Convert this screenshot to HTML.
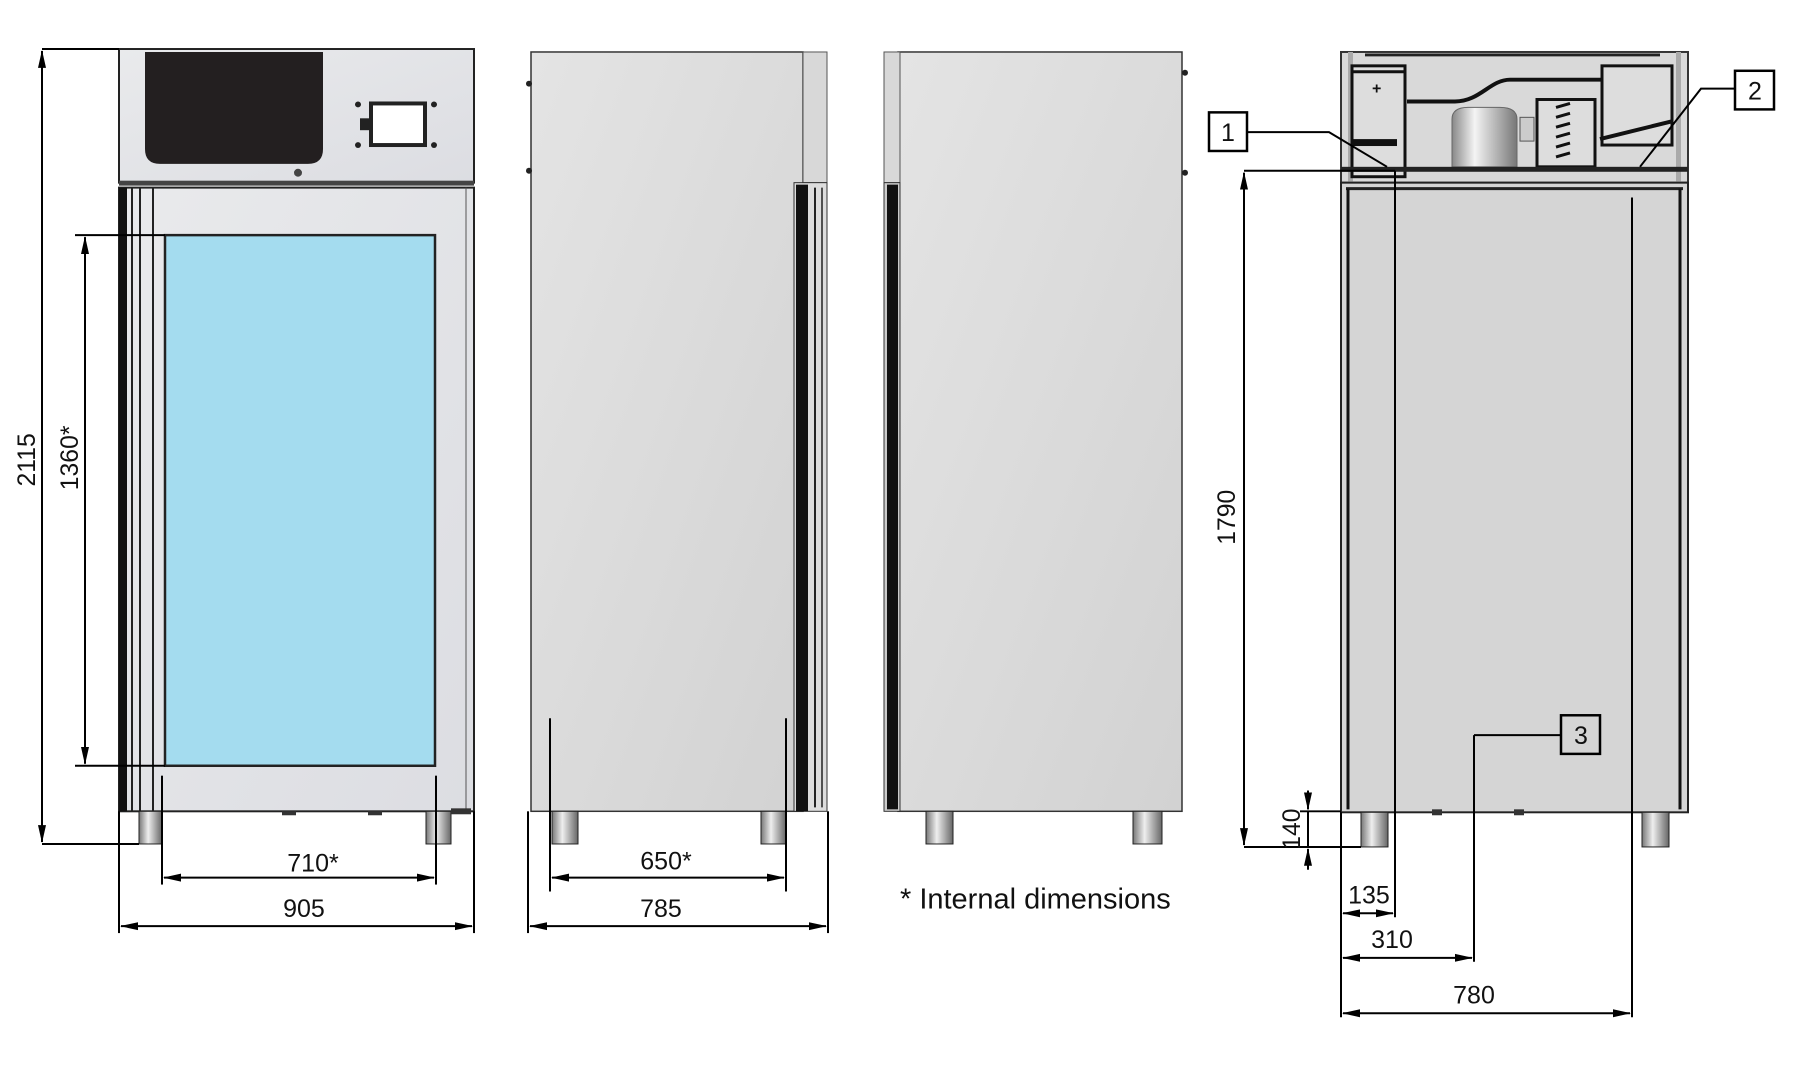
<!DOCTYPE html>
<html><head><meta charset="utf-8"><style>
html,body{margin:0;padding:0;background:#fff}
svg{display:block}
text{font-family:"Liberation Sans",sans-serif;font-size:25px;fill:#111}
</style></head><body>
<svg width="1803" height="1065" viewBox="0 0 1803 1065" xmlns="http://www.w3.org/2000/svg">
<defs>
<linearGradient id="g1" x1="0" y1="0" x2="1" y2="1"><stop offset="0" stop-color="#e4e4e4"/><stop offset="1" stop-color="#d2d2d2"/></linearGradient>
<linearGradient id="g2" x1="0" y1="0" x2="1" y2="1"><stop offset="0" stop-color="#e9eaec"/><stop offset="1" stop-color="#dcdde2"/></linearGradient>
<linearGradient id="cmp" x1="0" x2="1"><stop offset="0" stop-color="#888"/><stop offset=".35" stop-color="#f4f4f4"/><stop offset="1" stop-color="#777"/></linearGradient>
<linearGradient id="ft" x1="0" x2="1"><stop offset="0" stop-color="#777"/><stop offset=".4" stop-color="#eee"/><stop offset="1" stop-color="#666"/></linearGradient>
<marker id="a" markerWidth="18" markerHeight="10" refX="17" refY="5" orient="auto-start-reverse" markerUnits="userSpaceOnUse"><path d="M0,1 L18,5 L0,9 Z" fill="#000"/></marker>
</defs>
<g transform="translate(0,0.5) scale(1,0.99)">
<!-- ============ FRONT UNIT ============ -->
<rect x="119" y="49" width="355" height="135" fill="url(#g2)" stroke="#222" stroke-width="2"/>
<path d="M145,52 H323 V150 Q323,165 308,165 H160 Q145,165 145,150 Z" fill="#231f20"/>
<rect x="371" y="104" width="54" height="42" fill="#fff" stroke="#222" stroke-width="4"/>
<rect x="360" y="119" width="10" height="12" fill="#222"/>
<circle cx="358" cy="105" r="3" fill="#222"/><circle cx="434" cy="105" r="3" fill="#222"/>
<circle cx="358" cy="146" r="3" fill="#222"/><circle cx="434" cy="146" r="3" fill="#222"/>
<circle cx="298" cy="174" r="4" fill="#444"/>
<rect x="119" y="182" width="355" height="5" fill="#444"/>
<rect x="119" y="189" width="355" height="630" fill="url(#g2)" stroke="#222" stroke-width="2"/>
<rect x="119" y="189" width="8" height="630" fill="#111"/>
<line x1="132" y1="189" x2="132" y2="819" stroke="#222" stroke-width="2"/>
<line x1="140" y1="189" x2="140" y2="819" stroke="#222" stroke-width="2"/>
<line x1="153" y1="189" x2="153" y2="819" stroke="#222" stroke-width="2"/>
<line x1="466" y1="189" x2="466" y2="819" stroke="#555" stroke-width="1"/>
<rect x="165" y="237" width="270" height="536" fill="#a4dcef" stroke="#222" stroke-width="2.5"/>
<rect x="139" y="819" width="23" height="33" fill="url(#ft)" stroke="#222"/>
<rect x="426" y="819" width="25" height="33" fill="url(#ft)" stroke="#222"/>
<rect x="282" y="819" width="14" height="4" fill="#333"/><rect x="368" y="819" width="14" height="4" fill="#333"/>
<rect x="451" y="816" width="20" height="6" fill="#333"/>

<g stroke="#000" stroke-width="2" fill="none">
<line x1="42" y1="49" x2="119" y2="49"/><line x1="42" y1="852" x2="139" y2="852"/>
<line x1="42" y1="51" x2="42" y2="850" marker-start="url(#a)" marker-end="url(#a)"/>
<line x1="75" y1="237" x2="165" y2="237"/><line x1="75" y1="773" x2="165" y2="773"/>
<line x1="85" y1="239" x2="85" y2="771" marker-start="url(#a)" marker-end="url(#a)"/>
<line x1="162" y1="783" x2="162" y2="893"/><line x1="436" y1="783" x2="436" y2="893"/>
<line x1="164" y1="886" x2="434" y2="886" marker-start="url(#a)" marker-end="url(#a)"/>
<line x1="119" y1="819" x2="119" y2="942"/><line x1="474" y1="819" x2="474" y2="942"/>
<line x1="121" y1="935" x2="472" y2="935" marker-start="url(#a)" marker-end="url(#a)"/>
</g>
<text transform="translate(35,464) rotate(-90)" text-anchor="middle">2115</text>
<text transform="translate(78,462) rotate(-90)" text-anchor="middle">1360*</text>
<text x="313" y="880" text-anchor="middle">710*</text>
<text x="304" y="926" text-anchor="middle">905</text>

<!-- ============ SIDE UNIT ============ -->
<rect x="531" y="52" width="272" height="767" fill="url(#g1)" stroke="#333" stroke-width="1.5"/>
<rect x="803" y="52" width="24" height="132" fill="#d8d8d8" stroke="#555"/>
<rect x="794" y="184" width="33" height="635" fill="#ddd" stroke="#333"/>
<rect x="796" y="186" width="12" height="633" fill="#111"/>
<line x1="815" y1="189" x2="815" y2="815" stroke="#222" stroke-width="2"/>
<line x1="822" y1="189" x2="822" y2="815" stroke="#222" stroke-width="1.5"/>
<circle cx="529" cy="84" r="3" fill="#222"/><circle cx="529" cy="172" r="3" fill="#222"/>
<rect x="552" y="819" width="26" height="33" fill="url(#ft)" stroke="#222"/>
<rect x="761" y="819" width="25" height="33" fill="url(#ft)" stroke="#222"/>
<g stroke="#000" stroke-width="2" fill="none">
<line x1="550" y1="725" x2="550" y2="900"/><line x1="786" y1="725" x2="786" y2="900"/>
<line x1="552" y1="886" x2="784" y2="886" marker-start="url(#a)" marker-end="url(#a)"/>
<line x1="528" y1="819" x2="528" y2="942"/><line x1="828" y1="819" x2="828" y2="942"/>
<line x1="530" y1="935" x2="826" y2="935" marker-start="url(#a)" marker-end="url(#a)"/>
</g>
<text x="666" y="878" text-anchor="middle">650*</text>
<text x="661" y="926" text-anchor="middle">785</text>

<!-- ============ THIRD UNIT ============ -->
<rect x="898" y="52" width="284" height="767" fill="url(#g1)" stroke="#333" stroke-width="1.5"/>
<rect x="884" y="52" width="16" height="132" fill="#d8d8d8" stroke="#555"/>
<rect x="884" y="184" width="16" height="635" fill="#ccc" stroke="#333"/>
<rect x="887" y="186" width="11" height="631" fill="#111"/>
<circle cx="1185" cy="73" r="3" fill="#222"/><circle cx="1185" cy="174" r="3" fill="#222"/>
<rect x="926" y="819" width="27" height="33" fill="url(#ft)" stroke="#222"/>
<rect x="1133" y="819" width="29" height="33" fill="url(#ft)" stroke="#222"/>
<text x="900" y="917" style="font-size:29px">* Internal dimensions</text>

<!-- ============ BACK UNIT ============ -->
<rect x="1341" y="52" width="347" height="132" fill="#d9d9d9" stroke="#333" stroke-width="2"/>
<rect x="1348" y="52" width="5" height="132" fill="#aaa"/><rect x="1676" y="52" width="5" height="132" fill="#aaa"/>
<line x1="1365" y1="55" x2="1660" y2="55" stroke="#222" stroke-width="3"/>
<rect x="1352" y="66" width="53" height="112" fill="#ddd" stroke="#111" stroke-width="3"/>
<line x1="1352" y1="72" x2="1405" y2="72" stroke="#111" stroke-width="3"/>
<rect x="1352" y="140" width="45" height="7" fill="#111"/>
<text x="1372" y="94" style="font-size:16px;font-weight:bold">+</text>
<path d="M1407,102 H1455 C1480,102 1490,80 1510,80 H1602" stroke="#111" stroke-width="4" fill="none"/>
<rect x="1602" y="66" width="70" height="80" fill="#ddd" stroke="#111" stroke-width="3"/>
<line x1="1600" y1="140" x2="1672" y2="122" stroke="#111" stroke-width="4"/>
<path d="M1452,120 Q1452,108 1468,108 H1500 Q1517,108 1517,120 V168 H1452 Z" fill="url(#cmp)" stroke="#666"/>
<rect x="1520" y="118" width="14" height="24" fill="#ccc" stroke="#555"/>
<rect x="1537" y="100" width="58" height="68" fill="#ddd" stroke="#111" stroke-width="3"/>
<g stroke="#111" stroke-width="3"><line x1="1556" y1="108" x2="1570" y2="104"/><line x1="1556" y1="118" x2="1570" y2="114"/><line x1="1556" y1="128" x2="1570" y2="124"/><line x1="1556" y1="138" x2="1570" y2="134"/><line x1="1556" y1="148" x2="1570" y2="144"/><line x1="1556" y1="158" x2="1570" y2="154"/></g>
<rect x="1341" y="168" width="347" height="5" fill="#222"/>
<rect x="1341" y="184" width="347" height="636" fill="#d5d5d5" stroke="#222" stroke-width="2"/>
<line x1="1346" y1="190" x2="1683" y2="190" stroke="#222" stroke-width="3"/>
<line x1="1348" y1="190" x2="1348" y2="817" stroke="#111" stroke-width="3"/>
<line x1="1680" y1="190" x2="1680" y2="817" stroke="#111" stroke-width="3"/>
<rect x="1361" y="820" width="27" height="35" fill="url(#ft)" stroke="#222"/>
<rect x="1642" y="820" width="27" height="35" fill="url(#ft)" stroke="#222"/>
<rect x="1432" y="817" width="10" height="6" fill="#333"/><rect x="1514" y="817" width="10" height="6" fill="#333"/>

<g stroke="#000" stroke-width="2" fill="none">
<line x1="1244" y1="172" x2="1395" y2="172"/>
<line x1="1244" y1="855" x2="1361" y2="855"/>
<line x1="1244" y1="174" x2="1244" y2="853" marker-start="url(#a)" marker-end="url(#a)"/>
<line x1="1300" y1="819" x2="1341" y2="819"/>
<line x1="1308" y1="798" x2="1308" y2="817" marker-end="url(#a)"/>
<line x1="1308" y1="878" x2="1308" y2="857" marker-end="url(#a)"/>
<line x1="1308" y1="819" x2="1308" y2="855"/>
<line x1="1395" y1="172" x2="1395" y2="926"/>
<line x1="1474" y1="742" x2="1474" y2="971"/>
<line x1="1632" y1="199" x2="1632" y2="1027"/>
<line x1="1341" y1="820" x2="1341" y2="1027"/>
<line x1="1343" y1="922" x2="1393" y2="922" marker-start="url(#a)" marker-end="url(#a)"/>
<line x1="1343" y1="967" x2="1472" y2="967" marker-start="url(#a)" marker-end="url(#a)"/>
<line x1="1343" y1="1023" x2="1630" y2="1023" marker-start="url(#a)" marker-end="url(#a)"/>
<rect x="1209" y="113" width="38" height="39" stroke-width="2.5"/>
<polyline points="1247,133 1329,133 1387,168"/>
<rect x="1735" y="71" width="39" height="39" stroke-width="2.5"/>
<polyline points="1735,89 1701,89 1640,168"/>
<rect x="1561" y="722" width="39" height="39" stroke-width="2.5"/>
<polyline points="1561,742 1474,742"/>
</g>
<text transform="translate(1235,522) rotate(-90)" text-anchor="middle">1790</text>
<text transform="translate(1300,837) rotate(-90)" text-anchor="middle">140</text>
<text x="1369" y="912" text-anchor="middle">135</text>
<text x="1392" y="957" text-anchor="middle">310</text>
<text x="1474" y="1013" text-anchor="middle">780</text>
<text x="1228" y="142" text-anchor="middle">1</text>
<text x="1755" y="100" text-anchor="middle">2</text>
<text x="1581" y="751" text-anchor="middle">3</text>
</g>
</svg>
</body></html>
